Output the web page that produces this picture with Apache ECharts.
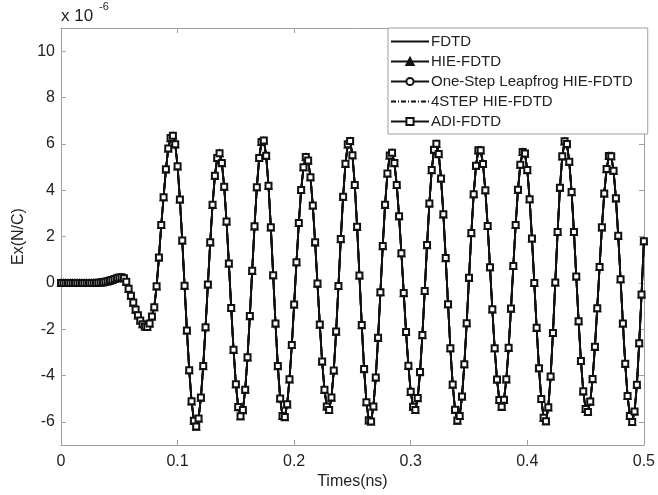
<!DOCTYPE html>
<html>
<head>
<meta charset="utf-8">
<script src="https://cdn.jsdelivr.net/npm/echarts@6/dist/echarts.min.js"></script>
<style>
html,body{margin:0;padding:0;background:#fff;}
#chart{width:658px;height:495px;}
</style>
</head>
<body>
<div id="chart"></div>
<script>
// Sampling grid (ns)
const t0 = 0;
const dt = 0.002;

// Ex (in units of 1e-6 N/C), one value per sample
const exValues = [
  0,0,0,0,0,0,0,0,0,0,
  0,0,0,0,0,0,0.01,0.02,0.03,0.05,
  0.07,0.1,0.13,0.17,0.2,0.23,0.24,0.2,0.05,-0.25,
  -0.55,-0.85,-1.15,-1.4,-1.62,-1.78,-1.88,-1.9,-1.75,-1.45,
  -1.05,-0.15,1.1,2.5,3.7,4.9,5.8,6.25,6.35,5.98,
  5.03,3.6,1.83,-0.12,-2.05,-3.77,-5.11,-5.95,-6.2,-5.85,
  -4.95,-3.59,-1.91,-0.07,1.75,3.37,4.62,5.39,5.6,5.17,
  4.15,2.65,0.84,-1.08,-2.88,-4.37,-5.36,-5.75,-5.49,-4.61,
  -3.21,-1.43,0.52,2.44,4.13,5.39,6.08,6.14,5.49,4.19,
  2.4,0.33,-1.75,-3.59,-4.99,-5.74,-5.79,-5.24,-4.16,-2.68,
  -0.93,0.89,2.59,4.01,4.99,5.43,5.28,4.56,3.34,1.75,
  -0.03,-1.8,-3.39,-4.61,-5.33,-5.48,-4.95,-3.78,-2.1,-0.13,
  1.89,3.72,5.14,5.98,6.12,5.51,4.23,2.42,0.32,-1.82,
  -3.72,-5.15,-5.93,-5.98,-5.33,-4.08,-2.37,-0.4,1.59,3.37,
  4.72,5.5,5.62,5.17,4.23,2.88,1.28,-0.44,-2.12,-3.58,
  -4.7,-5.35,-5.48,-4.97,-3.85,-2.25,-0.35,1.63,3.43,4.87,
  5.75,6.0,5.56,4.51,2.96,1.07,-0.92,-2.82,-4.39,-5.47,
  -5.94,-5.74,-4.9,-3.51,-1.74,0.22,2.15,3.83,5.06,5.72,
  5.72,5.13,4.0,2.46,0.68,-1.14,-2.82,-4.17,-5.05,-5.35,
  -5.04,-4.16,-2.8,-1.11,0.73,2.5,4.02,5.1,5.65,5.58,
  4.87,3.61,1.92,0.0,-1.94,-3.68,-5.01,-5.82,-5.97,-5.37,
  -4.04,-2.16,0.02,2.2,4.11,5.46,6.11,5.99,5.23,3.92,
  2.2,0.28,-1.65,-3.37,-4.68,-5.44,-5.57,-5.12,-4.15,-2.76,
  -1.09,0.69,2.4,3.86,4.91,5.48,5.47,4.84,3.65,2.03,
  0.16,-1.75,-3.49,-4.88,-5.74,-6.0,-5.55,-4.4,-2.6,-0.5,
  1.8
];

const seriesNames = ['FDTD', 'HIE-FDTD', 'One-Step Leapfrog HIE-FDTD', '4STEP HIE-FDTD', 'ADI-FDTD'];
const xTicks = [0, 0.1, 0.2, 0.3, 0.4, 0.5];
const yTicks = [-6, -4, -2, 0, 2, 4, 6, 8, 10];

const pts = exValues.map((v, i) => [+(t0 + i * dt).toFixed(4), v]);

const FONT = '"Liberation Sans", Arial, Helvetica, sans-serif';
const AX = '#a0a0a0';
const TXT = '#222';
const INK = '#111';

function mkSeries(name, symbol, size, lineType) {
  return {
    name: name,
    type: 'line',
    data: pts,
    symbol: symbol,
    symbolSize: size,
    showSymbol: symbol !== 'none',
    color: INK,
    itemStyle: { color: INK, borderColor: INK, borderWidth: 1.2 },
    lineStyle: { color: INK, width: 1.8, type: lineType || 'solid' },
    emphasis: { disabled: true },
    silent: true,
    animation: false
  };
}

const axisBase = {
  axisLine: { show: true, onZero: false, lineStyle: { color: AX, width: 1 } },
  splitLine: { show: false }
};

const chart = echarts.init(document.getElementById('chart'), null, { renderer: 'canvas' });
chart.setOption({
  animation: false,
  backgroundColor: '#fff',
  textStyle: { fontFamily: FONT },
  grid: { left: 61, top: 28, right: 11, bottom: 48, containLabel: false },
  xAxis: [Object.assign({}, axisBase, {
    type: 'value', min: 0, max: 0.5, interval: 0.1,
    name: 'Times(ns)', nameLocation: 'middle', nameGap: 23,
    nameTextStyle: { fontSize: 16, color: TXT, fontFamily: FONT },
    axisTick: { show: true, inside: true, length: 5, lineStyle: { color: AX } },
    axisLabel: { fontSize: 16, color: TXT, margin: 8, fontFamily: FONT,
      customValues: xTicks, formatter: v => String(+v.toFixed(1)) }
  }), Object.assign({}, axisBase, {
    type: 'value', min: 0, max: 0.5, interval: 0.1, position: 'top',
    axisTick: { show: true, inside: true, length: 5, lineStyle: { color: AX } },
    axisLabel: { show: false }
  })],
  yAxis: [Object.assign({}, axisBase, {
    type: 'value', min: -7, max: 11,
    name: 'Ex(N/C)', nameLocation: 'middle', nameGap: 30,
    nameTextStyle: { fontSize: 16, color: TXT, fontFamily: FONT },
    axisTick: { show: true, inside: true, length: 5, lineStyle: { color: AX }, customValues: yTicks },
    axisLabel: { fontSize: 16, color: TXT, margin: 6, fontFamily: FONT, customValues: yTicks }
  }), Object.assign({}, axisBase, {
    type: 'value', min: -7, max: 11, position: 'right',
    axisTick: { show: true, inside: true, length: 5, lineStyle: { color: AX }, customValues: yTicks },
    axisLabel: { show: false, customValues: yTicks }
  })],
  legend: {
    orient: 'vertical',
    left: 388, top: 28,
    data: [
      { name: seriesNames[0], itemStyle: { opacity: 0 } },
      { name: seriesNames[1] },
      { name: seriesNames[2] },
      { name: seriesNames[3], itemStyle: { opacity: 0 } },
      { name: seriesNames[4] }
    ],
    itemWidth: 38, itemHeight: 9, itemGap: 5,
    padding: [6, 15, 5, 2],
    borderColor: AX, borderWidth: 1,
    backgroundColor: '#fff',
    textStyle: { fontSize: 15, color: TXT, fontFamily: FONT, padding: [0, 0, 0, -3] },
    selectedMode: false
  },
  graphic: [
    { type: 'text', left: 61, top: 8, style: { text: 'x 10', fill: TXT, font: '17px ' + FONT } },
    { type: 'text', left: 99, top: 1, style: { text: '-6', fill: TXT, font: '11px ' + FONT } }
  ],
  series: [
    mkSeries(seriesNames[0], 'none', 0, 'solid'),
    mkSeries(seriesNames[1], 'triangle', 7, 'solid'),
    mkSeries(seriesNames[2], 'emptyCircle', 5, 'solid'),
    mkSeries(seriesNames[3], 'none', 0, [5, 2, 1, 2]),
    mkSeries(seriesNames[4], 'emptyRect', 6, 'solid')
  ]
});
</script>
</body>
</html>
